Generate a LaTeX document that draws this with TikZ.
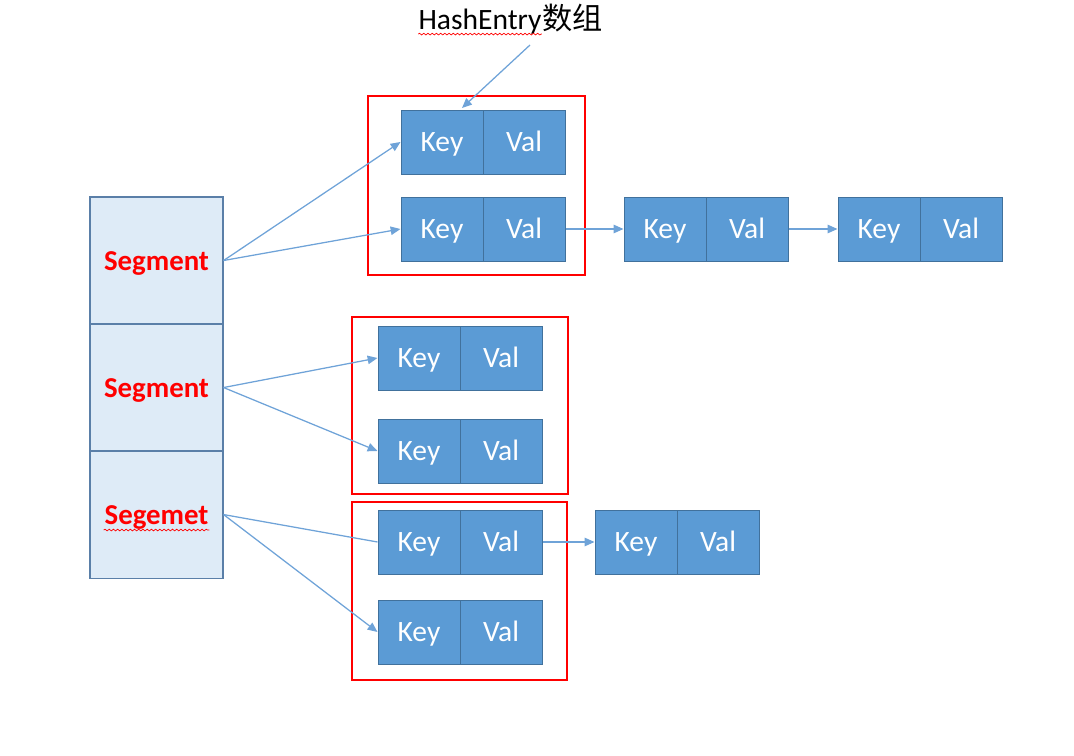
\documentclass[tikz,border=0pt]{standalone}
\usepackage{fontspec}
\setmainfont{Carlito}
\newfontfamily\cjk{Noto Sans CJK SC}
\usetikzlibrary{arrows.meta}
\usetikzlibrary{positioning}
\usetikzlibrary{decorations.pathmorphing}
\definecolor{cellblue}{HTML}{5B9BD5}
\definecolor{cellline}{HTML}{41719C}
\definecolor{segfill}{HTML}{DEEBF7}
\definecolor{segline}{HTML}{5A7FA8}
\definecolor{linkblue}{HTML}{6FA3D8}
\tikzset{keycell/.style={draw=cellline, fill=cellblue, text=white,
    minimum width=2.05cm, minimum height=1.6cm, inner sep=0pt,
    text height=16pt, text depth=2pt,
    line width=0.7pt, font=\fontsize{21}{24}\selectfont}}
\tikzset{segcell/.style={draw=segline, fill=segfill, text=red,
    minimum width=3.325cm, minimum height=3.175cm, inner sep=0pt,
    text height=16pt, text depth=2pt,
    line width=0.8pt, font=\fontsize{20.5}{24}\selectfont\bfseries}}
\tikzset{frame/.style={draw=red, line width=0.9pt}}
\tikzset{link/.style={draw=linkblue, line width=0.9pt}}
\tikzset{linkarrow/.style={link, -{Triangle[length=7pt,width=6pt]}}}
\tikzset{squiggle/.style={draw=red, line width=0.5pt, decorate,
    decoration={snake, amplitude=0.6pt, segment length=3pt}}}

\begin{document}
\begin{tikzpicture}[x=0.025cm, y=-0.025cm]
  \useasboundingbox (0,0) rectangle (1074,756);

  % segments
  \node[segcell] (s1) at (156.5,260.5) {Segment};
  \node[segcell, below=-0.8pt of s1] (s2) {Segment};
  \node[segcell, below=-0.8pt of s2] (s3) {Segemet};
  \draw[squiggle] ([xshift=-1.32cm, yshift=-4pt]s3.base)
    -- ([xshift=1.32cm, yshift=-4pt]s3.base);

  % hash entries
  \foreach \name/\x/\y in {a/442/142, b/442/229, c/665/229, d/879/229,
      e/419/358, f/419/451, g/419/542, h/636/542, i/419/632}
  {
    \node[keycell] (\name k) at (\x,\y) {Key};
    \node[keycell, right=-0.7pt of \name k] (\name v) {Val};
  }

  % arrays
  \draw[frame] (368,96) rectangle (585,275);
  \draw[frame] (352,317) rectangle (568,494);
  \draw[frame] (352,502) rectangle (567,680);

  % title
  \node[inner sep=0pt, font=\fontsize{21}{24}\selectfont] (hash) at (480,22) {HashEntry};
  \node[inner sep=0pt, font=\fontsize{21.5}{24}\selectfont\cjk, right=0pt of hash.base east, anchor=base west] (arr) {数组};
  \draw[squiggle] ([yshift=-3pt]hash.base west) -- ([yshift=-3pt]hash.base east);
  \coordinate (pointer) at (530,45);
  \coordinate (slot) at (462,108);
  \draw[linkarrow] (pointer) -- (slot);

  % links
  \draw[linkarrow] (s1.east) -- (ak.west);
  \draw[linkarrow] (s1.east) -- (bk.west);
  \draw[linkarrow] (s2.east) -- (ek.west);
  \draw[linkarrow] (s2.east) -- (fk.west);
  \draw[link] (s3.east) -- (gk.west);
  \draw[linkarrow] (s3.east) -- (ik.west);
  \draw[linkarrow] (bv) -- (ck);
  \draw[linkarrow] (cv) -- (dk);
  \draw[linkarrow] (gv) -- (hk);
\end{tikzpicture}
\end{document}
